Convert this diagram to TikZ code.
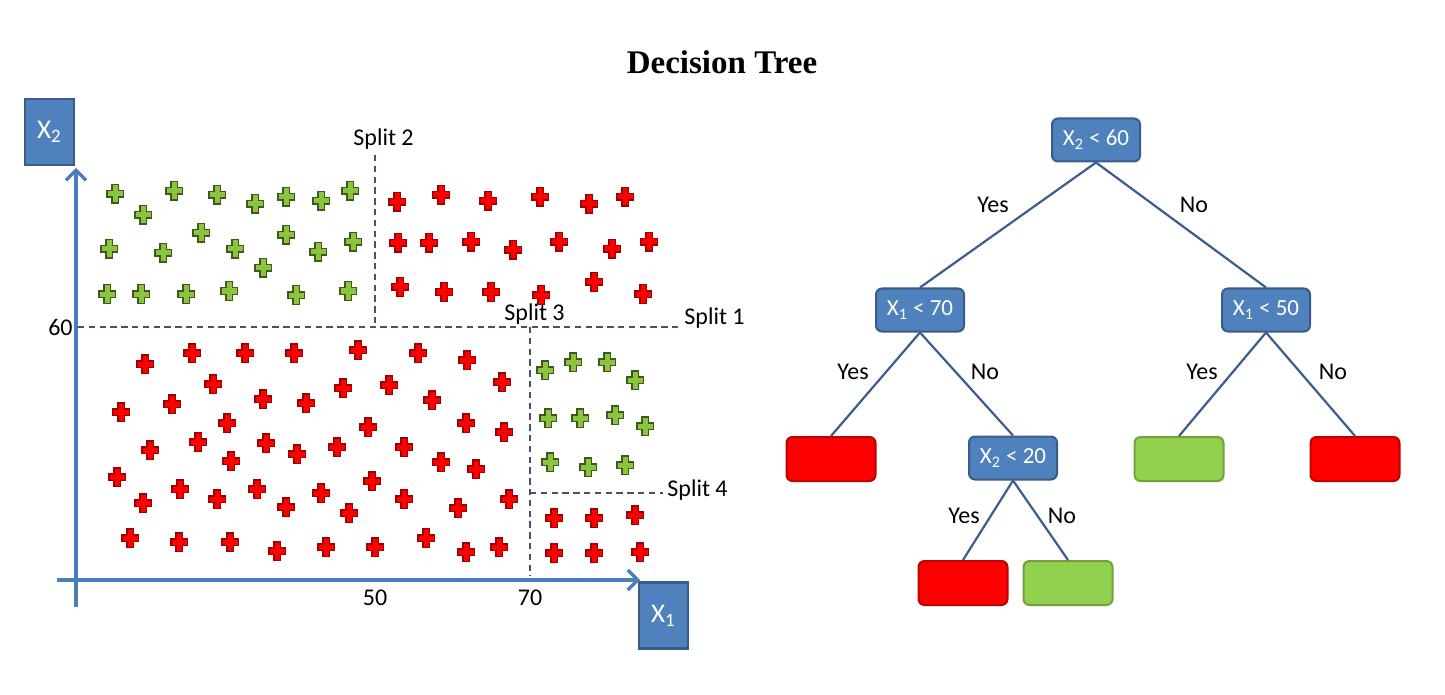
\documentclass[tikz,border=0pt]{standalone}
\usepackage{fontspec}
\setmainfont{Carlito}
\newfontfamily\titlefont{Liberation Serif}
\usetikzlibrary{arrows.meta}
\definecolor{axisblue}{HTML}{4A7EBB}
\definecolor{boxblue}{HTML}{4F81BD}
\definecolor{boxedge}{HTML}{385D8A}
\definecolor{splitgray}{HTML}{44546A}
\definecolor{plusgreen}{HTML}{8CC43F}
\definecolor{plusgreenedge}{HTML}{3D5A1A}
\definecolor{plusred}{HTML}{FF0000}
\definecolor{plusrededge}{HTML}{A00000}
\definecolor{leafgreen}{HTML}{92D050}
\definecolor{leafgreenedge}{HTML}{71A33A}
\definecolor{leafred}{HTML}{FF0000}
\definecolor{leafrededge}{HTML}{C00000}
\definecolor{edgeblue}{HTML}{3B5E8C}
\begin{document}
\begin{tikzpicture}[x=0.5pt,y=-0.5pt,
  plusshape/.style={line width=0.8pt, line join=miter},
  gplus/.pic={\filldraw[plusshape, fill=plusgreen, draw=plusgreenedge] (-3.3,-9.3) -- (3.3,-9.3) -- (3.3,-3.3) -- (8.3,-3.3) -- (8.3,3.3) -- (3.3,3.3) -- (3.3,9.3) -- (-3.3,9.3) -- (-3.3,3.3) -- (-8.3,3.3) -- (-8.3,-3.3) -- (-3.3,-3.3) -- cycle;},
  rplus/.pic={\filldraw[plusshape, fill=plusred, draw=plusrededge] (-3.3,-9.3) -- (3.3,-9.3) -- (3.3,-3.3) -- (8.3,-3.3) -- (8.3,3.3) -- (3.3,3.3) -- (3.3,9.3) -- (-3.3,9.3) -- (-3.3,3.3) -- (-8.3,3.3) -- (-8.3,-3.3) -- (-3.3,-3.3) -- cycle;},
  axisbox/.style={draw=boxedge, fill=boxblue, line width=1.2pt, minimum width=24.5pt, minimum height=33pt, inner sep=0pt, text=white, font=\fontsize{13.5}{15}\selectfont},
  axisline/.style={draw=axisblue, line width=1.6pt, -{Straight Barb[length=5pt,width=10pt,line width=1.6pt]}},
  splitline/.style={draw=splitgray, line width=0.8pt, dash pattern=on 3.2pt off 2.2pt},
  lbl/.style={font=\fontsize{12}{14}\selectfont, text=black, inner sep=0pt},
  decision/.style={draw=boxedge, fill=boxblue, rounded corners=3pt, line width=1pt, minimum width=44pt, minimum height=21.5pt, inner sep=0pt, text=white, font=\fontsize{11.5}{13}\selectfont},
  redleaf/.style={draw=leafrededge, fill=leafred, rounded corners=3pt, line width=1pt, minimum width=44.5pt, minimum height=22pt, inner sep=0pt},
  greenleaf/.style={draw=leafgreenedge, fill=leafgreen, rounded corners=3pt, line width=1pt, minimum width=44.5pt, minimum height=22pt, inner sep=0pt},
  treeedge/.style={draw=edgeblue, line width=1.1pt}
]
\useasboundingbox[fill=white] (0,0) rectangle (1445,695);

% title
\node[font=\titlefont\bfseries\fontsize{16.5}{19}\selectfont] (title) at (722,62) {Decision Tree};

% split lines
\coordinate (s1a) at (78,327);
\coordinate (s1b) at (682,327);
\coordinate (s2a) at (375,155);
\coordinate (s2b) at (375,327);
\coordinate (s3a) at (530,327);
\coordinate (s3b) at (530,576);
\coordinate (s4a) at (530,493);
\coordinate (s4b) at (663,493);
\draw[splitline] (s1a) -- (s1b);
\draw[splitline] (s2a) -- (s2b);
\draw[splitline] (s3a) -- (s3b);
\draw[splitline] (s4a) -- (s4b);

\node[lbl, anchor=west] (sp1) at (684,318) {Split 1};
\node[lbl, anchor=west] (sp2) at (353,139) {Split 2};
\node[lbl, anchor=west] (sp3) at (504,314) {Split 3};
\node[lbl, anchor=west] (sp4) at (667,490) {Split 4};
\node[lbl, anchor=east] (t60) at (73,327) {60};
\node[lbl] (t50) at (375,598) {50};
\node[lbl] (t70) at (530,598) {70};

% axes
\node[axisbox] (x2box) at (49.5,132) {X\textsubscript{2}};
\node[axisbox] (x1box) at (663.5,615.5) {X\textsubscript{1}};
\coordinate (vbot) at (76,607);
\coordinate (vtop) at (76,168);
\coordinate (hleft) at (57,580);
\coordinate (hright) at (640,580);
\draw[axisline] (vbot) -- (vtop);
\draw[axisline] (hleft) -- (hright);

% green pluses
\foreach \px/\py in {115/194,174/191,217/195,255/204,286/197,321/201,350/191,143/215,
  109/249,163/253,201/233,235/249,286/235,318/252,353/242,263/268,
  107/294,141/294,186/294,229/291,296/295,348/291,
  545/370,573/362,607/362,635/380,548/418,580/418,615/415,645/426,550/462,588/467,625/465}
  \pic at (\px,\py) {gplus};

% red pluses
\foreach \px/\py in {397/202,441/195,488/201,540/197,589/204,625/197,
  398/243,429/243,471/242,513/250,559/242,612/249,649/242,
  400/287,444/292,491/292,541/295,594/282,643/294,
  145/364,192/353,245/353,294/353,358/350,418/353,467/360,
  213/384,343/388,389/385,502/382,
  121/412,172/404,263/399,306/403,432/400,
  227/423,368/427,466/423,504/432,
  150/450,198/442,266/443,297/454,337/447,404/447,
  231/461,441/462,476/469,
  117/477,180/489,257/489,372/481,
  217/499,321/493,404/499,509/499,
  143/503,286/507,349/513,458/508,
  130/538,179/542,230/542,277/551,326/547,375/547,426/538,466/552,499/547,
  554/518,594/518,635/515,554/553,594/553,640/552}
  \pic at (\px,\py) {rplus};

% tree nodes
\node[decision] (root) at (1096,140) {X\textsubscript{2} < 60};
\node[decision] (n1) at (920,310) {X\textsubscript{1} < 70};
\node[decision] (n2) at (1266,310) {X\textsubscript{1} < 50};
\node[decision] (n3) at (1013,458) {X\textsubscript{2} < 20};
\node[redleaf] (l1) at (831,459) {};
\node[greenleaf] (l2) at (1179,459) {};
\node[redleaf] (l3) at (1355,459) {};
\node[redleaf] (l4) at (963,583) {};
\node[greenleaf] (l5) at (1068,583) {};

\draw[treeedge] (root.south) -- (n1.north);
\draw[treeedge] (root.south) -- (n2.north);
\draw[treeedge] (n1.south) -- (l1.north);
\draw[treeedge] (n1.south) -- (n3.north);
\draw[treeedge] (n2.south) -- (l2.north);
\draw[treeedge] (n2.south) -- (l3.north);
\draw[treeedge] (n3.south) -- (l4.north);
\draw[treeedge] (n3.south) -- (l5.north);

% edge labels
\node[lbl] (e1) at (993,205) {Yes};
\node[lbl] (e2) at (1194,205) {No};
\node[lbl] (e3) at (853,372) {Yes};
\node[lbl] (e4) at (985,372) {No};
\node[lbl] (e5) at (1202,372) {Yes};
\node[lbl] (e6) at (1333,372) {No};
\node[lbl] (e7) at (964,516) {Yes};
\node[lbl] (e8) at (1062,516) {No};
\end{tikzpicture}
\end{document}
